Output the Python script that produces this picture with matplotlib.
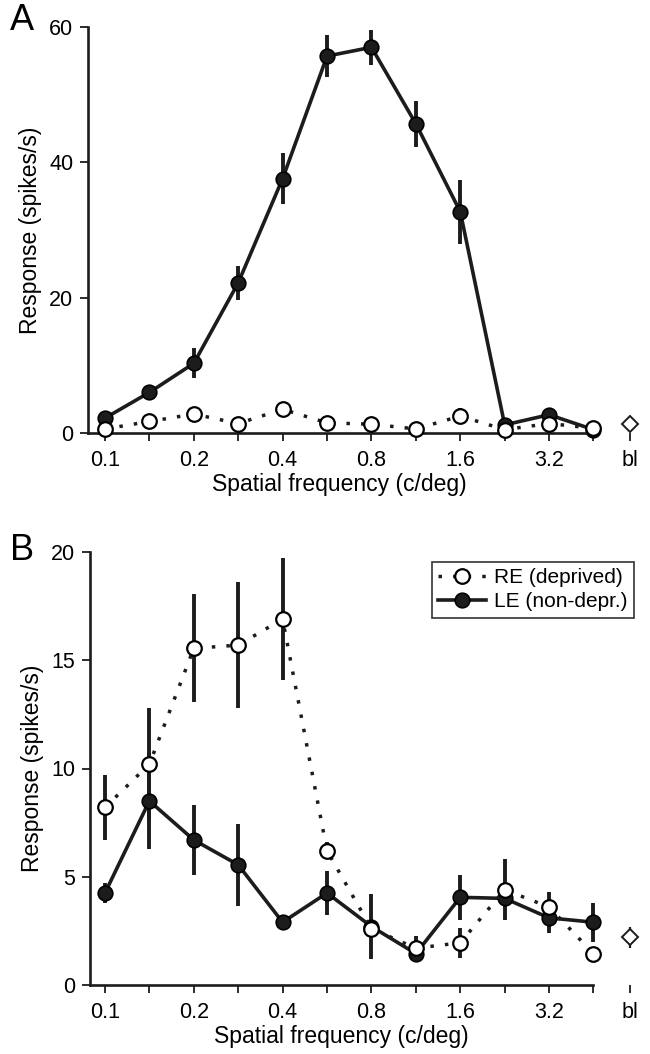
import matplotlib
matplotlib.use('Agg')
import matplotlib.pyplot as plt
import numpy as np

plt.rcParams['font.family'] = ['Liberation Sans', 'DejaVu Sans']

# spatial frequencies (c/deg), half-octave steps, plus baseline
freqs = ['0.1', '', '0.2', '', '0.4', '', '0.8', '', '1.6', '', '3.2', '']
bl_label = 'bl'

# panel A
a_le = [2.2, 6.0, 10.3, 22.2, 37.6, 55.7, 57.0, 45.7, 32.7, 1.2, 2.7, 0.5]
a_le_err = [0.5, 0.6, 2.2, 2.5, 3.8, 3.1, 2.6, 3.4, 4.7, 0.4, 0.5, 0.3]
a_re = [0.6, 1.7, 2.8, 1.4, 3.5, 1.5, 1.3, 0.6, 2.5, 0.5, 1.4, 0.7]
a_re_err = [0.3, 0.3, 0.4, 0.3, 0.4, 0.3, 0.3, 0.3, 1.2, 0.3, 0.3, 0.3]
a_bl = 1.4
a_bl_err = 0.3

# panel B
b_re = [8.2, 10.2, 15.55, 15.7, 16.9, 6.2, 2.6, 1.7, 1.95, 4.4, 3.6, 1.45]
b_re_err = [1.5, 2.6, 2.5, 2.9, 2.8, 0.4, 0.3, 0.55, 0.7, 1.4, 0.7, 0.25]
b_le = [4.25, 8.5, 6.7, 5.55, 2.9, 4.25, 2.7, 1.45, 4.05, 4.0, 3.1, 2.9]
b_le_err = [0.45, 2.2, 1.6, 1.9, 0.35, 1.0, 1.5, 0.3, 1.05, 0.4, 0.7, 0.9]
b_bl = 2.2
b_bl_err = 0.5

dark = '#1c1c1c'
x = np.arange(len(freqs))
x_bl = 11.83

fig = plt.figure(figsize=(6.5, 10.54), dpi=100)
axA = fig.add_axes([88/650, 1-433/1054, (645-88)/650, (433-27)/1054])
axB = fig.add_axes([90/650, 1-985/1054, (645-90)/650, (985-552)/1054])


def draw(ax, le, le_err, re, re_err, bl, bl_err, xl, ylim, yticks):
    ax.errorbar(x, le, yerr=le_err, fmt='none', ecolor=dark, elinewidth=2.8,
                capsize=0, zorder=1, clip_on=False)
    ax.errorbar(x, re, yerr=re_err, fmt='none', ecolor=dark, elinewidth=2.8,
                capsize=0, zorder=1, clip_on=False)
    ax.errorbar([x_bl], [bl], yerr=[bl_err], fmt='none', ecolor=dark,
                elinewidth=1.6, capsize=0, zorder=1, clip_on=False)
    ax.plot(x, le, '-', color=dark, lw=2.6, zorder=2, clip_on=False,
            marker='o', ms=10.5, mfc=dark, mec='black', mew=1.2,
            label='LE (non-depr.)')
    ax.plot(x, re, color=dark, lw=2.5, ls=(0, (1, 3.2)), zorder=3,
            clip_on=False, marker='o', ms=10.5, mfc='white', mec='black',
            mew=1.6, label='RE (deprived)')
    ax.plot([x_bl], [bl], 'D', ms=8, mfc='white', mec=dark, mew=1.4,
            zorder=4, clip_on=False)

    ax.set_xlim(xl, 12.16)
    ax.set_ylim(*ylim)
    ax.set_yticks(yticks)
    ax.set_xticks(list(x) + [x_bl])
    ax.set_xticklabels(freqs + [bl_label])
    for s in ['top', 'right']:
        ax.spines[s].set_visible(False)
    ax.spines['bottom'].set_bounds(xl, 11)
    for s in ['left', 'bottom']:
        ax.spines[s].set_linewidth(1.9)
        ax.spines[s].set_color(dark)
    ax.tick_params(axis='both', length=6, width=1.3, color=dark,
                   labelsize=15.5, pad=4.5)
    ax.tick_params(axis='x', pad=6.5)
    ax.set_xlabel('Spatial frequency (c/deg)', fontsize=16.5, labelpad=1,
                  x=0.452)
    ax.set_ylabel('Response (spikes/s)', fontsize=16.5, labelpad=5)


draw(axA, a_le, a_le_err, a_re, a_re_err, a_bl, a_bl_err, -0.383,
     (0, 60), [0, 20, 40, 60])
draw(axB, b_le, b_le_err, b_re, b_re_err, b_bl, b_bl_err, -0.337,
     (0, 20), [0, 5, 10, 15, 20])

fig.text(10/650, 1-20/1054, 'A', fontsize=26, va='center', ha='left')
fig.text(10/650, 1-550/1054, 'B', fontsize=26, va='center', ha='left')

handles, labels = axB.get_legend_handles_labels()
leg = axB.legend(handles[::-1], labels[::-1], loc='upper right',
                 bbox_to_anchor=(634/650, 1-562/1054),
                 bbox_transform=fig.transFigure, borderaxespad=0,
                 fontsize=15, handlelength=2.3, handletextpad=0.4,
                 numpoints=1, fancybox=False, framealpha=1,
                 edgecolor='#333333', borderpad=0.3, labelspacing=0.25)
leg.get_frame().set_linewidth(1.2)

plt.savefig('out.png', dpi=100)
